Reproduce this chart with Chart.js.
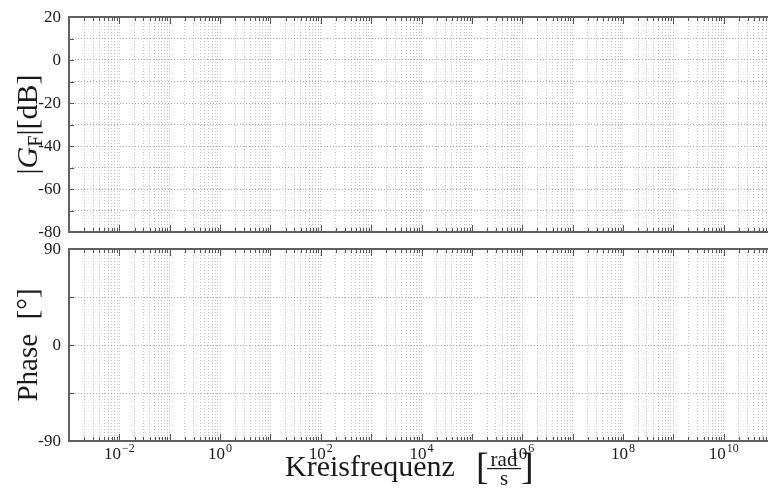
<!DOCTYPE html>
<html><head><meta charset="utf-8">
<script src="https://cdn.jsdelivr.net/npm/chart.js@4.4.1/dist/chart.umd.min.js"></script>
<style>
html,body{margin:0;padding:0;background:#fff;overflow:hidden;width:768px;height:488px;}
#wrap{position:relative;width:768px;height:488px;overflow:hidden;background:#fff;}
.box{position:absolute;left:0;width:780px;}
#b1{top:0;height:240px;}
#b2{top:240px;height:248px;}
</style></head><body>
<div id="wrap">
  <div class="box" id="b1"><canvas id="c1"></canvas></div>
  <div class="box" id="b2"><canvas id="c2"></canvas></div>
</div>
<script>
// ---- data (the reference shows empty axes: no visible curves) ----
const freqMin = 1e-3;
const freqMax = 1e11;
const freqDecades = [-3,-2,-1,0,1,2,3,4,5,6,7,8,9,10];
const minorMultipliers = [1,2,3,4,5,6,7,8,9];
const freqLabelExponents = [-2,0,2,4,6,8,10];
const magTicks = [20,10,0,-10,-20,-30,-40,-50,-60,-70,-80];
const magLabels = [20,0,-20,-40,-60,-80];
const phaseTicks = [90,45,0,-45,-90];
const phaseLabels = [90,0,-90];
const magnitudeFreq = [];
const magnitudeDb = [];
const phaseFreq = [];
const phaseDeg = [];

const SERIF = '"Liberation Serif", "DejaVu Serif", serif';
const TXT = '#1a1a1a';

function logTicks() {
  const t = [];
  freqDecades.forEach(e => minorMultipliers.forEach(m => t.push({value: m * Math.pow(10, e), major: m === 1})));
  t.push({value: freqMax, major: true});
  return t;
}

function framePlugin(labels) {
  return {
    id: 'frame',
    afterDraw(chart) {
      const {ctx, chartArea: a, scales: {x, y}} = chart;
      ctx.save();
      ctx.strokeStyle = '#555';
      ctx.lineWidth = 1;
      ctx.beginPath();
      x.ticks.forEach(t => {
        const px = Math.round(x.getPixelForValue(t.value)) + 0.5;
        const len = t.major ? 7 : 4;
        ctx.moveTo(px, a.top); ctx.lineTo(px, a.top + len);
        ctx.moveTo(px, a.bottom); ctx.lineTo(px, a.bottom - len);
      });
      y.ticks.forEach(t => {
        const py = Math.round(y.getPixelForValue(t.value)) + 0.5;
        ctx.moveTo(a.left, py); ctx.lineTo(a.left + 5, py);
      });
      ctx.stroke();
      ctx.lineWidth = 2;
      ctx.strokeStyle = '#606060';
      ctx.beginPath();
      ctx.moveTo(a.right, a.top); ctx.lineTo(a.left, a.top); ctx.lineTo(a.left, a.bottom); ctx.lineTo(a.right, a.bottom);
      ctx.stroke();
      // y tick labels
      ctx.fillStyle = TXT;
      ctx.font = '17px ' + SERIF;
      ctx.textAlign = 'right';
      ctx.textBaseline = 'middle';
      labels.forEach(v => ctx.fillText(String(v), a.left - 8, y.getPixelForValue(v) + 1));
      ctx.restore();
    }
  };
}

function drawPieces(ctx, pieces) {
  let w = 0;
  pieces.forEach(p => { ctx.font = p.font; p.w = ctx.measureText(p.t).width; w += p.w; });
  let xx = -w / 2;
  pieces.forEach(p => { ctx.font = p.font; ctx.fillText(p.t, xx, p.dy || 0); xx += p.w; });
}

const magTitlePlugin = {
  id: 'magTitle',
  afterDraw(chart) {
    const {ctx, chartArea: a} = chart;
    ctx.save();
    ctx.fillStyle = TXT;
    ctx.textBaseline = 'alphabetic';
    ctx.textAlign = 'left';
    ctx.translate(37, (a.top + a.bottom) / 2);
    ctx.rotate(-Math.PI / 2);
    drawPieces(ctx, [
      {t: '|', font: '30px ' + SERIF},
      {t: 'G', font: 'italic 30px ' + SERIF},
      {t: 'F', font: '20px ' + SERIF, dy: 5},
      {t: '|', font: '30px ' + SERIF},
      {t: '[dB]', font: '30px ' + SERIF}
    ]);
    ctx.restore();
  }
};

const phaseTitlePlugin = {
  id: 'phaseTitle',
  afterDraw(chart) {
    const {ctx, chartArea: a, scales: {x}} = chart;
    ctx.save();
    ctx.fillStyle = TXT;
    ctx.textBaseline = 'alphabetic';
    ctx.textAlign = 'left';
    ctx.save();
    ctx.translate(37, (a.top + a.bottom) / 2);
    ctx.rotate(-Math.PI / 2);
    drawPieces(ctx, [{t: 'Phase  [°]', font: '29px ' + SERIF}]);
    ctx.restore();
    // x tick labels 10^n
    freqLabelExponents.forEach(e => {
      const px = x.getPixelForValue(Math.pow(10, e));
      const base = '10';
      const ex = e < 0 ? '\u2212' + Math.abs(e) : String(e);
      ctx.font = '17px ' + SERIF;
      const wb = ctx.measureText(base).width;
      ctx.font = '12px ' + SERIF;
      const we = ctx.measureText(ex).width;
      const x0 = px - (wb + we + 1) / 2;
      ctx.font = '17px ' + SERIF;
      ctx.fillText(base, x0, a.bottom + 18);
      ctx.font = '12px ' + SERIF;
      ctx.fillText(ex, x0 + wb + 1, a.bottom + 11);
    });
    // x title
    const by = a.bottom + 35;
    ctx.font = '30px ' + SERIF;
    ctx.fillText('Kreisfrequenz', 285, by);
    ctx.font = '38px ' + SERIF;
    ctx.fillText('[', 476, by + 3);
    ctx.fillText(']', 521, by + 3);
    ctx.font = '21px ' + SERIF;
    ctx.textAlign = 'center';
    ctx.fillText('rad', 504, by - 10);
    ctx.fillText('s', 504, by + 9);
    ctx.fillRect(487, by - 8, 34, 1.2);
    ctx.restore();
  }
};

function xScale() {
  return {
    type: 'logarithmic',
    min: freqMin, max: freqMax,
    afterBuildTicks: s => { s.ticks = logTicks(); },
    afterFit: s => { s.height = 0; },
    ticks: {display: false},
    grid: {color: '#c4c4c4', lineWidth: 1, drawTicks: false},
    border: {display: false, dash: [1, 2]}
  };
}

function yScale(min, max, ticks) {
  return {
    type: 'linear',
    min: min, max: max,
    afterBuildTicks: s => { s.ticks = ticks.map(v => ({value: v})); },
    afterFit: s => { s.width = 69; },
    ticks: {display: false},
    grid: {color: '#a8a8a8', lineWidth: 1, drawTicks: false},
    border: {display: false, dash: [1, 2]}
  };
}

const common = {
  responsive: true, maintainAspectRatio: false, animation: false,
  plugins: {legend: {display: false}, tooltip: {enabled: false}},
  events: []
};

new Chart(document.getElementById('c1'), {
  type: 'line',
  data: {datasets: [{
    data: magnitudeFreq.map((f, i) => ({x: f, y: magnitudeDb[i]})),
    borderColor: '#0000ff', borderWidth: 1.5, pointRadius: 0, fill: false
  }]},
  options: Object.assign({}, common, {
    layout: {padding: {top: 17, bottom: 8, left: 0, right: 6}},
    scales: {x: xScale(), y: yScale(-80, 20, magTicks)}
  }),
  plugins: [framePlugin(magLabels), magTitlePlugin]
});

new Chart(document.getElementById('c2'), {
  type: 'line',
  data: {datasets: [{
    data: phaseFreq.map((f, i) => ({x: f, y: phaseDeg[i]})),
    borderColor: '#0000ff', borderWidth: 1.5, pointRadius: 0, fill: false
  }]},
  options: Object.assign({}, common, {
    layout: {padding: {top: 9, bottom: 47, left: 0, right: 6}},
    scales: {x: xScale(), y: yScale(-90, 90, phaseTicks)}
  }),
  plugins: [framePlugin(phaseLabels), phaseTitlePlugin]
});
</script>
</body></html>
